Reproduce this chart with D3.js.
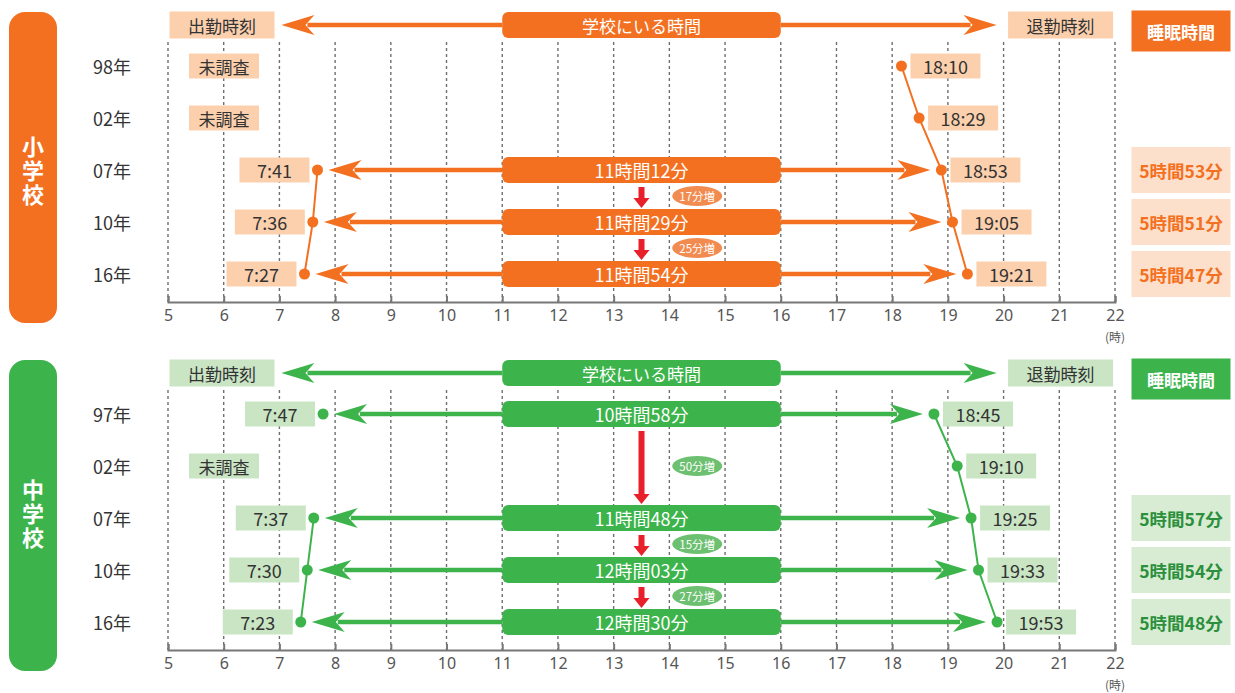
<!DOCTYPE html>
<html><head><meta charset="utf-8">
<script src="https://cdn.jsdelivr.net/npm/d3@7"></script>
<style>
html,body{margin:0;padding:0;background:#fff;}
svg{display:block;font-family:'Noto Sans CJK JP','Noto Sans',sans-serif;}
</style></head>
<body>
<svg id="c" width="1235" height="693"></svg>
<script>
// ---- data ----
const hourTicks = [5,6,7,8,9,10,11,12,13,14,15,16,17,18,19,20,21,22];

const elemYears  = ["98年","02年","07年","10年","16年"];
const elemArrive = [null, null, "7:41", "7:36", "7:27"];
const elemLeave  = ["18:10","18:29","18:53","19:05","19:21"];
const elemSchool = [null, null, "11時間12分","11時間29分","11時間54分"];
const elemSleep  = [null, null, "5時間53分","5時間51分","5時間47分"];
const elemIncrease = ["17分増","25分増"];

const juniorYears  = ["97年","02年","07年","10年","16年"];
const juniorArrive = ["7:47", null, "7:37", "7:30", "7:23"];
const juniorLeave  = ["18:45","19:10","19:25","19:33","19:53"];
const juniorSchool = ["10時間58分", null, "11時間48分","12時間03分","12時間30分"];
const juniorSleep  = [null, null, "5時間57分","5時間54分","5時間48分"];
const juniorIncrease = ["50分増","15分増","27分増"];

const headerLabels = {arrive:"出勤時刻", school:"学校にいる時間", leave:"退勤時刻", sleep:"睡眠時間", missing:"未調査", unit:"(時)"};

// ---- drawing ----
const svg = d3.select("#c");
const x = d3.scaleLinear().domain([5,22]).range([168,1115]);
const toH = s => { const [h,m] = s.split(":").map(Number); return h + m/60; };

function panel(opt){
  const g = svg.append("g");
  const off = opt.offset;
  const y = d3.scalePoint().domain(opt.years).range([66+off, 274+off]);
  const headY = 25 + off;
  const axisY = 302 + off;

  // side band
  g.append("rect").attr("x",9).attr("y",12+off).attr("width",48).attr("height",311)
    .attr("rx",16).attr("fill",opt.main);
  g.append("text").attr("x",33).attr("y",opt.bandMid)
    .attr("writing-mode","vertical-rl").attr("text-anchor","middle")
    .attr("letter-spacing",2)
    .attr("font-size",22).attr("font-weight","bold").attr("fill","#fff").text(opt.band);

  // gridlines
  g.selectAll("line.grid").data(hourTicks).join("line")
    .attr("x1",d=>x(d)).attr("x2",d=>x(d)).attr("y1",42+off).attr("y2",axisY)
    .attr("stroke","#6f6f6f").attr("stroke-width",1.4).attr("stroke-dasharray","3,3");

  // axis
  const ax = g.append("g").attr("transform",`translate(0,${axisY})`)
    .call(d3.axisBottom(x).tickValues(hourTicks).tickSizeInner(-6).tickSizeOuter(-6).tickPadding(8));
  ax.select(".domain").attr("stroke","#777").attr("stroke-width",2);
  ax.selectAll(".tick line").attr("stroke","#777").attr("stroke-width",2);
  ax.selectAll(".tick text").attr("font-size",16).attr("fill","#555")
    .attr("font-family","'Noto Sans','Noto Sans CJK JP',sans-serif");
  g.append("text").attr("x",x(22)).attr("y",axisY+34).attr("text-anchor","middle")
    .attr("dominant-baseline","central")
    .attr("font-size",12).attr("fill","#555").text(headerLabels.unit);

  // arrow helpers
  function arrowHead(tipX, yy, dir){
    const L=33, H=10, N=24;
    const p = `M${tipX},${yy} L${tipX - dir*L},${yy-H} L${tipX - dir*N},${yy} L${tipX - dir*L},${yy+H} Z`;
    g.append("path").attr("d",p).attr("fill",opt.main);
  }
  function hArrow(fromX, tipX, yy){
    const dir = tipX > fromX ? 1 : -1;
    g.append("line").attr("x1",fromX).attr("x2",tipX - dir*26).attr("y1",yy).attr("y2",yy)
      .attr("stroke",opt.main).attr("stroke-width",4.5);
    arrowHead(tipX, yy, dir);
  }
  function labelBox(cx, yy, w, h, fill, txt, size, color, weight){
    g.append("rect").attr("x",cx-w/2).attr("y",yy-h/2).attr("width",w).attr("height",h).attr("fill",fill);
    g.append("text").attr("x",cx).attr("y",yy).attr("text-anchor","middle").attr("dominant-baseline","central")
      .attr("font-size",size).attr("fill",color).attr("font-weight",weight||"normal").text(txt);
  }

  // header row
  hArrow(x(11), x(7)+2, headY);
  hArrow(x(16), x(20)-7, headY);
  labelBox(x(5)+54, headY, 105, 27, opt.light, headerLabels.arrive, 17, "#333");
  labelBox(x(20)+57, headY, 105, 27, opt.light, headerLabels.leave, 17, "#333");
  g.append("rect").attr("x",x(11)).attr("y",headY-13).attr("width",x(16)-x(11)).attr("height",26)
    .attr("rx",6).attr("fill",opt.main);
  g.append("text").attr("x",(x(11)+x(16))/2).attr("y",headY).attr("text-anchor","middle")
    .attr("dominant-baseline","central").attr("font-size",17).attr("fill","#fff").text(headerLabels.school);
  labelBox(1181, 31+off, 99, 41, opt.main, headerLabels.sleep, 17, "#fff", "bold");

  // year labels
  opt.years.forEach(yr=>{
    g.append("text").attr("x",112).attr("y",y(yr)).attr("text-anchor","middle")
      .attr("dominant-baseline","central").attr("font-size",18).attr("fill","#333").text(yr);
  });

  // school-time arrows and bars
  opt.years.forEach((yr,i)=>{
    const yy = y(yr);
    if(opt.school[i]){
      hArrow(x(11), x(toH(opt.arrive[i]))+11, yy);
      hArrow(x(16), x(toH(opt.leave[i]))-11, yy);
      g.append("rect").attr("x",x(11)).attr("y",yy-13).attr("width",x(16)-x(11)).attr("height",26)
        .attr("rx",6).attr("fill",opt.main);
      g.append("text").attr("x",(x(11)+x(16))/2).attr("y",yy).attr("text-anchor","middle")
        .attr("dominant-baseline","central").attr("font-size",18).attr("fill","#fff").text(opt.school[i]);
    }
  });

  // connecting lines
  const lineA = d3.line().defined(d=>d.v!==null).x(d=>x(toH(d.v))).y(d=>d.y);
  const arrData = opt.years.map((yr,i)=>({y:y(yr), v:opt.arrive[i]}));
  const levData = opt.years.map((yr,i)=>({y:y(yr), v:opt.leave[i]}));
  g.append("path").attr("d",lineA(arrData)).attr("fill","none").attr("stroke",opt.main).attr("stroke-width",2);
  g.append("path").attr("d",lineA(levData)).attr("fill","none").attr("stroke",opt.main).attr("stroke-width",2);

  // time labels & dots
  opt.years.forEach((yr,i)=>{
    const yy = y(yr);
    if(opt.arrive[i]){
      const dx = x(toH(opt.arrive[i]));
      labelBox(dx-8-35, yy, 70, 25, opt.light, opt.arrive[i], 18, "#333");
      g.append("circle").attr("cx",dx).attr("cy",yy).attr("r",5.5).attr("fill",opt.main);
    } else {
      labelBox(224, yy, 70, 25, opt.light, headerLabels.missing, 17, "#333");
    }
    const lx = x(toH(opt.leave[i]));
    labelBox(lx+9+35, yy, 70, 25, opt.light, opt.leave[i], 18, "#333");
    g.append("circle").attr("cx",lx).attr("cy",yy).attr("r",5.5).attr("fill",opt.main);
    if(opt.sleep[i]){
      labelBox(1181, yy, 99, 46, opt.sleepFill, opt.sleep[i], 17.5, opt.sleepText, "bold");
    }
  });

  // increase arrows & badges
  const idx = opt.school.map((s,i)=>s?i:-1).filter(i=>i>=0);
  for(let k=1;k<idx.length;k++){
    const y1 = y(opt.years[idx[k-1]]) + 17, y2 = y(opt.years[idx[k]]) - 14;
    const ax0 = x(13.5);
    const p = `M${ax0-3},${y1} L${ax0+3},${y1} L${ax0+3},${y2-10} L${ax0+8},${y2-10} L${ax0},${y2} L${ax0-8},${y2-10} L${ax0-3},${y2-10} Z`;
    g.append("path").attr("d",p).attr("fill","#e8202a");
    const by = (y(opt.years[idx[k-1]]) + y(opt.years[idx[k]]))/2;
    g.append("ellipse").attr("cx",x(14.5)).attr("cy",by).attr("rx",25).attr("ry",10).attr("fill",opt.badge);
    g.append("text").attr("x",x(14.5)).attr("y",by).attr("text-anchor","middle").attr("dominant-baseline","central")
      .attr("font-size",11.5).attr("fill","#fff").text(opt.increase[k-1]);
  }
}

panel({offset:0, years:elemYears, arrive:elemArrive, leave:elemLeave, school:elemSchool, sleep:elemSleep,
  increase:elemIncrease, band:"小学校", bandMid:172, main:"#f37021", light:"#fcd0ad", sleepFill:"#fde0cc",
  sleepText:"#f37021", badge:"#f28b4f"});
panel({offset:348, years:juniorYears, arrive:juniorArrive, leave:juniorLeave, school:juniorSchool, sleep:juniorSleep,
  increase:juniorIncrease, band:"中学校", bandMid:515, main:"#3cb44b", light:"#c9e5c4", sleepFill:"#d7ecd3",
  sleepText:"#2b8f3c", badge:"#6cc070"});
</script>
</body></html>
